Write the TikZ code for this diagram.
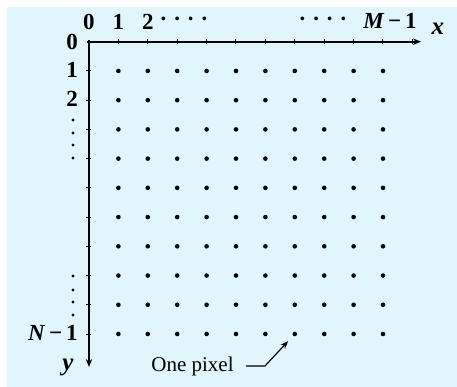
\documentclass[tikz,border=0pt]{standalone}
\usepackage{fontspec}
\setmainfont{Liberation Serif}
\usetikzlibrary{arrows.meta,calc}
\definecolor{paper}{RGB}{225,245,253}
\tikzset{
  pix/.style={circle, fill=black, inner sep=0pt, minimum size=2.3pt},
  ax/.style={line width=1pt, -{Stealth[length=4pt,width=3.2pt]}},
  tck/.style={line width=0.5pt},
  lbl/.style={font=\fontsize{11.5}{13}\selectfont\bfseries, inner sep=0pt},
  ptr/.style={line width=0.6pt, -{Stealth[length=4pt,width=3pt]}},
}
\begin{document}
\begin{tikzpicture}[x=0.5pt,y=-0.5pt]
\fill[paper] (7,7) rectangle (457,387);
\useasboundingbox (0,0) rectangle (457,387);
\def\dx{29.4}
\def\dy{29.23}
\coordinate (o) at (89,41.7);
\coordinate (xend) at (421,41.7);
\coordinate (yend) at (89,367);
% axes
\draw[ax] ($(o)+(-2,0)$) -- (xend);
\draw[ax] ($(o)+(0,-2)$) -- (yend);
\foreach \i in {1,...,11} \draw[tck] ($(o)+({\i*\dx},-2.5)$) -- ++(0,5);
\foreach \j in {1,...,10} \draw[tck] ($(o)+(-2.5,{\j*\dy})$) -- ++(5,0);
% pixels
\foreach \i in {1,...,10}
  \foreach \j in {1,...,10}
    \node[pix] (px-\i-\j) at ($(o)+({\i*\dx},{\j*\dy})$) {};
% column labels
\node[lbl] (c0) at (89,22) {0};
\node[lbl] (c1) at (118.4,22) {1};
\node[lbl] (c2) at (147.8,22) {2};
\node[lbl] (cdots1) at (184,22) {·\hspace{3pt}·\hspace{3pt}·\hspace{3pt}·};
\node[lbl] (cdots2) at (323,22) {·\hspace{3pt}·\hspace{3pt}·\hspace{3pt}·};
\node[lbl] (cM) at (390,21) {\textit{M}\,−\,1};
\node[lbl, font=\fontsize{12.5}{14}\selectfont\bfseries\itshape] (xl) at (438,29) {x};
% row labels
\node[lbl] (r0) at (72,42) {0};
\node[lbl] (r1) at (72,70) {1};
\node[lbl] (r2) at (72,99) {2};
\node[lbl, anchor=east] (rN) at (78,333) {\textit{N}\,−\,1};
\node[lbl, font=\fontsize{12.5}{14}\selectfont\bfseries\itshape] (yl) at (68,367) {y};
\foreach \v in {120,133,145,158,276,290,302,315} \fill (73,\v) circle (0.8pt);
% pointer
\node[font=\fontsize{10.5}{12}\selectfont, inner sep=0pt, anchor=base east] (onepx) at (234,371) {One pixel};
\draw[ptr, shorten <=4pt, shorten >=3.5pt] (onepx.east) ++(4,0) coordinate (pbeg) -- ++(27,0) coordinate (pbend) -- (px-7-10);
\end{tikzpicture}
\end{document}
